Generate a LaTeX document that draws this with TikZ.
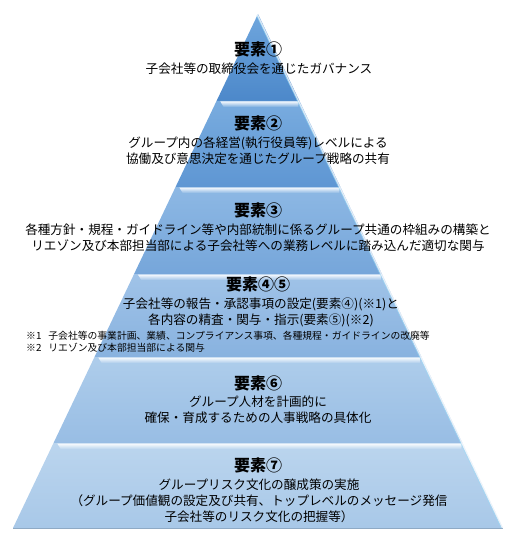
\documentclass[tikz,border=0pt]{standalone}
\usepackage{fontspec}
\setmainfont{Noto Sans CJK JP}
\definecolor{cA}{HTML}{6FA6DD}\definecolor{cAb}{HTML}{4C88CA}
\definecolor{cB}{HTML}{79ACDF}\definecolor{cBb}{HTML}{5E96D3}
\definecolor{cC}{HTML}{8DB8E4}\definecolor{cCb}{HTML}{76A6DA}
\definecolor{cD}{HTML}{A0C3E8}\definecolor{cDb}{HTML}{88B2DF}
\definecolor{cE}{HTML}{AECDEB}\definecolor{cEb}{HTML}{98BDE4}
\definecolor{cF}{HTML}{BBD5EE}\definecolor{cFb}{HTML}{A8C8E8}
\newcommand\pyrlayer[4]{%
  \shade[top color=#3, bottom color=#4]
    ({258-(#1-14)*0.47665},#1) -- ({258+(#1-14)*0.47665},#1) --
    ({258+(#2-14)*0.47665},#2) -- ({258-(#2-14)*0.47665},#2) -- cycle;
  \draw[#4!85!black, line width=0.6pt]
    ({258-(#2-14)*0.47665},#2) -- ({258+(#2-14)*0.47665},#2);
}
\newcommand\pyrshine[2]{%
  \shade[top color=white!90!#2, bottom color=#2]
    ({258-(#1+0.5-14)*0.47665+4},{#1+0.5}) -- ({258+(#1+0.5-14)*0.47665-1},{#1+0.5}) --
    ({258+(#1+6-14)*0.47665-4},{#1+6}) -- ({258-(#1+6-14)*0.47665+10},{#1+6}) -- cycle;
}
\begin{document}
\begin{tikzpicture}[x=1pt,y=-1pt,
  title/.style={font=\bfseries\fontsize{16}{18}\selectfont, inner sep=0pt},
  body/.style={font=\fontsize{12.6}{16}\selectfont, align=center, inner sep=0pt},
  note/.style={font=\fontsize{9.8}{12}\selectfont, anchor=west, inner sep=0pt}]
\useasboundingbox (0,0) rectangle (518,556);
\pyrlayer{14}{101}{cA}{cAb}
\pyrlayer{101}{187}{cB}{cBb}
\pyrlayer{187}{274}{cC}{cCb}
\pyrlayer{274}{357}{cD}{cDb}
\pyrlayer{357}{443}{cE}{cEb}
\pyrlayer{443}{528}{cF}{cFb}
\pyrshine{101}{cB}
\pyrshine{187}{cC}
\pyrshine{274}{cD}
\pyrshine{357}{cE}
\pyrshine{443}{cF}
\draw[white, opacity=0.75, line width=1.4pt] (257.4,15) -- (502.6,528);
\draw[cyan!40!white, opacity=0.6, line width=0.6pt] (256.6,15.5) -- (501.2,528);
\node[title] (t1) at (258,49) {要素①};
\node[body] (b1) at (259,69) {子会社等の取締役会を通じたガバナンス};
\node[title] (t2) at (258,123) {要素②};
\node[body] (b2) at (258,151) {グループ内の各経営(執行役員等)レベルによる\\協働及び意思決定を通じたグループ戦略の共有};
\node[title] (t3) at (258,210) {要素③};
\node[body] (b3) at (258,238) {各種方針・規程・ガイドライン等や内部統制に係るグループ共通の枠組みの構築と\\リエゾン及び本部担当部による子会社等への業務レベルに踏み込んだ適切な関与};
\node[title] (t4) at (258,284) {要素④⑤};
\node[body] (b4) at (261,312) {子会社等の報告・承認事項の設定(要素④)(※1)と\\各内容の精査・関与・指示(要素⑤)(※2)};
\node[note] (n1) at (26,336) {※1\hspace{7pt}子会社等の事業計画、業績、コンプライアンス事項、各種規程・ガイドラインの改廃等};
\node[note] (n2) at (26,348) {※2\hspace{7pt}リエゾン及び本部担当部による関与};
\node[title] (t6) at (258,383) {要素⑥};
\node[body] (b6) at (258,410) {グループ人材を計画的に\\確保・育成するための人事戦略の具体化};
\node[title] (t7) at (258,465) {要素⑦};
\node[body] (b7) at (259,500.5) {グループリスク文化の醸成策の実施\\（グループ価値観の設定及び共有、トップレベルのメッセージ発信\\子会社等のリスク文化の把握等）};
\end{tikzpicture}
\end{document}
